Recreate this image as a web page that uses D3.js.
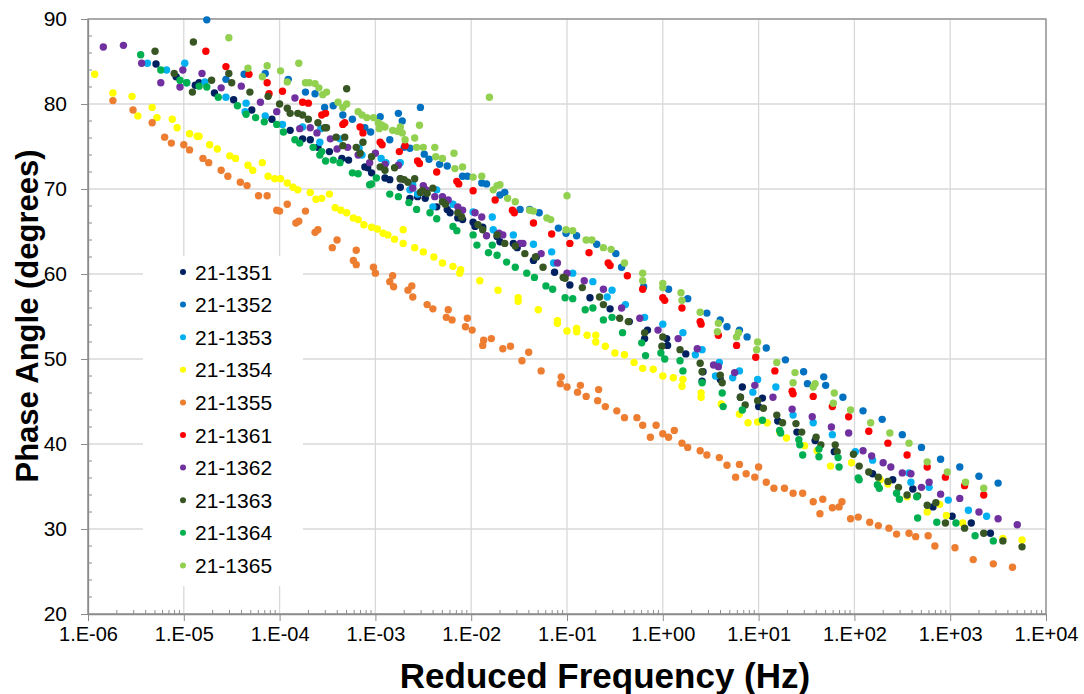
<!DOCTYPE html>
<html>
<head>
<meta charset="utf-8">
<script src="https://cdn.jsdelivr.net/npm/d3@7"></script>
<style>
  body { margin: 0; background: #fff; }
  text { font-family: "Liberation Sans", Arial, sans-serif; }
</style>
</head>
<body>
<svg id="chart"></svg>
<script>
// Series names and colours (legend order)
const seriesNames = ["21-1351", "21-1352", "21-1353", "21-1354", "21-1355",
                     "21-1361", "21-1362", "21-1363", "21-1364", "21-1365"];
const seriesColors = ["#002060", "#0070C0", "#00B0F0", "#FFFF00", "#ED7D31",
                      "#FF0000", "#7030A0", "#375623", "#00B050", "#92D050"];

// Points as [log10 of reduced frequency (Hz), phase angle (degrees)]
const s1351 = [[-5.29,84.7],[-5.08,83.2],[-4.88,82.2],[-4.84,82.5],[-4.68,81.3],[-4.48,80.5],[-4.29,79.3],[-4.08,78.2],
  [-3.89,76.9],[-3.76,75.9],[-3.68,75.8],[-3.60,74.9],[-3.48,74.4],[-3.35,73.6],[-3.28,73.4],[-3.11,72.6],[-3.08,72.5],
  [-3.04,71.9],[-2.90,71.3],[-2.85,71.1],[-2.74,70.2],[-2.64,68.9],[-2.56,69.1],[-2.48,68.9],[-2.36,67.9],[-2.25,67.6],
  [-2.22,67.2],[-2.14,66.6],[-2.09,66.4],[-1.98,66.1],[-1.96,65.6],[-1.88,65.5],[-1.73,64.4],[-1.70,63.8],[-1.56,63.6],
  [-1.52,63.1],[-1.35,61.6],[-1.32,62.0],[-1.13,60.2],[-0.97,58.7],[-0.76,57.2],[-0.55,55.9],[-0.35,54.4],[-0.19,52.4],
  [-0.16,53.4],[0.04,52.4],[0.05,51.6],[0.24,50.6],[0.41,47.4],[0.42,48.5],[0.60,47.6],[0.81,45.5],[0.83,46.7],[1.00,44.4],
  [1.04,45.4],[1.20,42.7],[1.40,41.4],[1.59,40.4],[1.79,39.1],[2.19,36.5],[2.40,35.8],[2.61,34.7],[2.82,32.6],[3.02,31.5],
  [3.22,30.7],[3.42,29.5]];

const s1352 = [[-4.76,89.9],[-4.56,82.9],[-4.37,83.5],[-4.15,83.6],[-3.91,82.9],[-3.73,81.4],[-3.63,81.2],[-3.53,79.6],
  [-3.44,79.8],[-3.34,78.7],[-3.24,78.2],[-3.11,77.2],[-3.05,76.7],[-2.95,78.5],[-2.85,75.8],[-2.76,78.9],[-2.72,78.0],
  [-2.53,79.6],[-2.70,74.9],[-2.64,74.8],[-2.49,74.1],[-2.44,73.5],[-2.33,72.9],[-2.25,72.7],[-2.09,71.5],[-2.04,71.5],
  [-1.89,70.7],[-1.84,70.6],[-1.70,69.3],[-1.65,69.6],[-1.49,67.6],[-1.39,67.6],[-1.29,67.2],[-1.09,65.4],[-1.01,64.8],
  [-0.90,64.5],[-0.69,63.5],[-0.49,62.4],[-0.43,60.8],[-0.20,58.5],[0.06,58.2],[0.26,57.1],[0.46,55.4],[0.60,54.6],
  [0.67,53.8],[0.80,53.4],[0.88,52.6],[1.08,51.3],[1.28,49.9],[1.47,48.5],[1.51,47.1],[1.68,47.9],[1.70,46.9],[1.88,45.5],
  [2.09,43.9],[2.29,42.9],[2.50,41.1],[2.70,39.6],[2.90,38.2],[3.10,37.3],[3.30,36.2],[3.50,35.4]];

const s1353 = [[-5.38,84.8],[-5.18,84.0],[-4.99,84.8],[-4.97,82.5],[-4.78,82.6],[-4.56,80.8],[-4.35,80.1],[-4.36,79.1],
  [-4.15,78.6],[-3.97,77.6],[-3.76,77.3],[-3.58,75.5],[-3.57,77.1],[-3.37,75.9],[-3.17,74.8],[-3.14,74.0],[-2.94,73.6],
  [-2.89,73.1],[-2.74,73.1],[-2.64,69.9],[-2.61,70.5],[-2.56,69.4],[-2.40,67.9],[-2.36,69.9],[-2.19,68.2],[-1.98,67.3],
  [-1.78,66.7],[-1.77,65.2],[-1.56,64.6],[-1.35,63.5],[-1.16,62.6],[-1.14,61.3],[-0.94,60.1],[-0.73,59.1],[-0.58,57.3],
  [-0.53,58.1],[-0.39,56.4],[-0.19,54.9],[0.00,54.1],[0.21,53.1],[0.34,50.5],[0.41,51.1],[0.55,48.0],[0.59,49.6],
  [0.73,47.8],[0.80,48.6],[0.94,46.1],[0.99,47.6],[1.18,46.7],[1.36,43.4],[1.57,42.5],[1.77,41.1],[2.01,39.1],[2.19,38.1],
  [2.57,36.6],[2.59,35.5],[2.78,34.9],[2.98,33.4],[3.19,32.2],[3.38,31.5]];

const s1354 = [[-5.93,83.5],[-5.74,81.3],[-5.54,80.9],[-5.48,78.6],[-5.33,79.6],[-5.28,78.4],[-5.12,78.2],[-5.07,77.2],
  [-4.94,76.5],[-4.86,76.2],[-4.84,76.2],[-4.73,75.2],[-4.65,74.7],[-4.52,73.9],[-4.46,73.6],[-4.33,72.8],[-4.28,72.2],
  [-4.18,73.1],[-4.12,71.5],[-4.05,71.2],[-3.99,71.2],[-3.92,70.7],[-3.86,70.2],[-3.81,69.9],[-3.68,69.6],[-3.62,68.8],
  [-3.56,68.9],[-3.48,69.4],[-3.42,67.8],[-3.36,67.5],[-3.30,67.2],[-3.23,66.6],[-3.18,66.4],[-3.12,65.8],[-3.04,65.5],
  [-2.98,65.3],[-2.92,64.8],[-2.87,64.6],[-2.80,64.1],[-2.71,63.6],[-2.71,65.2],[-2.59,63.1],[-2.50,62.6],[-2.39,62.0],
  [-2.30,61.3],[-2.19,60.9],[-2.12,60.1],[-2.11,60.5],[-1.91,59.2],[-1.72,58.1],[-1.51,57.2],[-1.51,56.8],[-1.30,55.8],
  [-1.10,54.5],[-1.10,54.2],[-1.00,53.3],[-0.90,53.6],[-0.90,53.2],[-0.79,52.8],[-0.70,52.8],[-0.70,52.0],[-0.60,51.5],
  [-0.50,50.7],[-0.40,50.5],[-0.30,49.6],[-0.21,48.9],[-0.10,48.8],[0.00,48.0],[0.11,47.8],[0.21,47.6],[0.20,46.8],
  [0.40,46.0],[0.40,45.5],[0.61,44.7],[0.80,43.5],[0.89,42.5],[0.99,42.6],[1.09,42.5],[1.22,41.4],[1.29,40.7],[1.48,39.8],
  [1.61,39.2],[1.75,37.4],[1.97,37.8],[2.27,35.8],[2.35,35.3],[2.55,33.8],[2.76,32.0],[2.89,32.9],[2.96,31.6],[3.13,30.7],
  [3.55,28.9],[3.75,28.7]];

const s1355 = [[-5.74,80.4],[-5.53,79.3],[-5.33,77.8],[-5.20,76.1],[-5.13,75.4],[-5.00,75.2],[-4.94,74.6],[-4.80,73.6],
  [-4.74,73.1],[-4.61,72.2],[-4.54,71.5],[-4.41,70.8],[-4.34,70.4],[-4.22,69.2],[-4.13,69.2],[-4.03,67.5],[-4.00,67.4],
  [-3.92,68.2],[-3.83,66.0],[-3.80,66.2],[-3.73,67.4],[-3.63,64.9],[-3.60,65.2],[-3.45,63.1],[-3.40,64.0],[-3.23,61.6],
  [-3.20,62.8],[-3.20,61.1],[-3.02,60.8],[-3.00,60.1],[-2.85,59.1],[-2.82,59.8],[-2.81,58.5],[-2.66,58.1],[-2.62,58.6],
  [-2.61,57.3],[-2.46,56.4],[-2.40,55.9],[-2.26,54.9],[-2.24,55.8],[-2.20,54.6],[-2.06,53.8],[-2.04,54.8],[-1.99,53.4],
  [-1.88,51.6],[-1.87,52.2],[-1.79,52.4],[-1.67,51.2],[-1.59,51.5],[-1.47,49.8],[-1.40,50.8],[-1.27,48.6],[-1.07,47.1],
  [-1.06,47.9],[-1.00,46.7],[-0.89,46.1],[-0.86,46.9],[-0.80,45.6],[-0.68,45.1],[-0.67,46.4],[-0.60,44.4],[-0.48,43.9],
  [-0.40,43.1],[-0.27,43.1],[-0.21,42.2],[-0.13,40.8],[-0.07,42.2],[0.00,41.2],[0.06,40.8],[0.12,41.6],[0.20,40.1],
  [0.26,39.6],[0.39,39.2],[0.46,38.7],[0.59,38.4],[0.67,37.5],[0.76,36.1],[0.80,37.6],[0.87,36.5],[0.96,36.1],[1.00,37.3],
  [1.08,35.5],[1.16,34.8],[1.27,34.8],[1.36,34.2],[1.46,34.2],[1.57,33.2],[1.64,31.8],[1.67,33.5],[1.77,32.5],[1.84,32.6],
  [1.87,33.2],[1.96,31.2],[2.04,31.4],[2.16,30.8],[2.25,30.4],[2.36,30.1],[2.44,29.4],[2.57,29.5],[2.64,29.1],[2.77,29.2],
  [2.84,28.0],[3.05,27.8],[3.24,26.4],[3.45,25.9],[3.65,25.5]];

const s1361 = [[-4.77,86.2],[-4.56,84.4],[-4.32,83.5],[-4.13,82.5],[-4.11,81.2],[-3.97,81.5],[-3.76,80.2],[-3.70,80.1],
  [-3.56,78.7],[-3.52,78.9],[-3.34,77.6],[-3.32,77.8],[-3.16,77.3],[-3.13,76.6],[-2.95,75.5],[-2.93,75.2],[-2.75,74.4],
  [-2.69,75.1],[-2.56,73.3],[-2.54,73.0],[-2.36,72.0],[-2.15,70.9],[-2.13,70.6],[-1.98,69.8],[-1.75,68.7],[-1.57,67.5],
  [-1.55,67.2],[-1.35,66.0],[-1.16,64.7],[-0.97,63.6],[-0.77,62.5],[-0.57,61.3],[-0.55,61.0],[-0.37,59.8],[-0.21,58.2],
  [0.00,57.2],[0.02,56.9],[0.20,56.0],[0.39,54.4],[0.40,54.1],[0.58,52.8],[0.77,51.6],[0.97,50.2],[1.17,48.6],[1.35,46.2],
  [1.36,45.9],[1.57,45.6],[1.77,44.4],[1.94,43.2],[2.15,41.5],[2.35,40.1],[2.55,38.7],[2.76,37.3],[2.95,36.1],[3.15,35.1],
  [3.35,34.0]];

const s1362 = [[-5.84,86.7],[-5.63,86.9],[-5.44,84.8],[-5.24,82.5],[-5.04,82.0],[-5.01,84.0],[-4.81,83.6],[-4.61,81.9],
  [-4.40,82.1],[-4.20,80.2],[-4.03,79.1],[-3.84,80.7],[-3.79,77.1],[-3.68,77.2],[-3.61,76.6],[-3.47,75.9],[-3.40,74.7],
  [-3.29,74.9],[-3.18,74.0],[-3.06,73.1],[-3.00,74.2],[-2.90,72.9],[-2.76,72.8],[-2.74,71.2],[-2.61,70.1],[-2.50,70.4],
  [-2.47,69.9],[-2.38,69.1],[-2.30,69.1],[-2.24,68.7],[-2.14,67.9],[-2.09,67.5],[-1.96,67.2],[-1.89,66.7],[-1.84,64.5],
  [-1.71,64.8],[-1.67,64.6],[-1.49,63.6],[-1.46,63.6],[-1.27,62.4],[-1.10,61.3],[-1.00,60.1],[-0.82,59.2],[-0.62,58.2],
  [-0.43,56.0],[-0.24,54.8],[-0.05,53.4],[0.16,52.4],[0.36,51.2],[0.53,49.3],[0.58,49.1],[0.75,48.4],[0.96,46.9],
  [1.15,45.5],[1.35,44.1],[1.56,43.2],[1.76,42.0],[1.94,41.3],[2.09,39.2],[2.18,38.6],[2.30,37.8],[2.38,37.3],[2.50,36.6],
  [2.59,36.5],[2.70,34.9],[2.78,35.5],[2.90,34.1],[3.10,33.6],[3.30,32.0],[3.50,31.2],[3.70,30.5]];

const s1363 = [[-5.30,86.2],[-5.10,83.6],[-4.91,81.4],[-4.90,87.3],[-4.71,82.8],[-4.53,83.6],[-4.50,82.5],[-4.31,81.4],
  [-4.12,80.9],[-4.00,80.0],[-3.92,79.5],[-3.89,78.9],[-3.81,78.9],[-3.76,78.7],[-3.70,78.2],[-3.60,77.8],[-3.53,77.2],
  [-3.51,77.2],[-3.41,76.1],[-3.34,75.1],[-3.32,76.1],[-3.30,81.8],[-3.20,74.9],[-3.16,74.2],[-3.13,75.5],[-3.04,73.8],
  [-2.95,72.6],[-2.90,72.2],[-2.80,72.5],[-2.74,71.2],[-2.70,71.1],[-2.66,70.8],[-2.59,71.2],[-2.53,69.6],[-2.51,69.8],
  [-2.46,69.5],[-2.40,70.1],[-2.30,68.5],[-2.27,68.2],[-2.14,67.2],[-2.10,66.7],[-1.93,65.8],[-1.88,65.2],[-1.73,64.6],
  [-1.65,63.6],[-1.54,63.3],[-1.44,62.4],[-1.33,62.0],[-1.25,60.8],[-1.04,59.6],[-1.02,59.5],[-0.84,58.4],[-0.66,57.3],
  [-0.62,56.4],[-0.45,54.8],[-0.36,54.4],[-0.19,53.1],[-0.01,51.5],[0.00,52.6],[0.18,51.1],[0.39,49.5],[0.41,48.5],
  [0.60,48.1],[0.62,47.2],[0.81,45.5],[0.86,44.6],[0.99,45.1],[1.05,44.2],[1.19,43.4],[1.25,42.5],[1.39,42.4],[1.45,41.4],
  [1.60,40.8],[1.65,39.9],[1.80,39.9],[1.82,39.1],[1.99,38.8],[2.05,37.4],[2.15,36.7],[2.25,36.1],[2.35,35.6],[2.46,34.9],
  [2.55,34.0],[2.66,33.9],[2.76,32.8],[2.85,33.1],[2.95,30.7],[3.15,30.1],[3.35,29.5],[3.55,28.6],[3.75,27.9]];

const s1364 = [[-5.45,85.8],[-5.24,84.0],[-5.04,82.8],[-4.97,82.5],[-4.84,82.1],[-4.76,82.0],[-4.64,80.8],[-4.44,79.8],
  [-4.35,78.8],[-4.25,78.4],[-4.16,77.9],[-4.03,77.6],[-3.96,76.7],[-3.84,75.8],[-3.79,75.4],[-3.65,74.9],[-3.58,74.0],
  [-3.56,74.4],[-3.52,73.3],[-3.44,73.4],[-3.37,73.1],[-3.24,71.9],[-3.18,71.8],[-3.06,70.5],[-3.04,70.6],[-2.99,71.3],
  [-2.85,69.4],[-2.76,69.1],[-2.65,68.4],[-2.57,67.6],[-2.43,67.2],[-2.36,66.5],[-2.19,65.6],[-2.15,65.1],[-1.98,64.6],
  [-1.94,63.4],[-1.82,62.5],[-1.78,63.4],[-1.73,62.2],[-1.63,61.4],[-1.54,60.8],[-1.42,60.1],[-1.34,59.6],[-1.22,58.6],
  [-1.15,58.2],[-1.02,57.2],[-0.94,57.1],[-0.81,55.8],[-0.73,56.0],[-0.62,54.6],[-0.53,54.9],[-0.42,53.1],[-0.22,51.9],
  [-0.18,50.4],[-0.02,50.7],[0.02,50.0],[0.18,49.8],[0.21,48.6],[0.41,47.2],[0.62,46.0],[0.63,44.4],[0.83,44.0],
  [1.04,42.8],[1.22,41.6],[1.23,41.3],[1.42,40.5],[1.43,39.9],[1.46,38.7],[1.63,39.4],[1.63,38.5],[1.83,38.4],[1.84,37.3],
  [2.04,36.0],[2.05,35.8],[2.24,35.2],[2.26,34.8],[2.44,34.2],[2.47,33.5],[2.65,33.8],[2.66,31.3],[2.86,30.8],[3.06,30.7],
  [3.26,29.2],[3.45,28.6]];

const s1365 = [[-4.53,87.8],[-4.33,84.2],[-4.18,83.2],[-4.13,84.5],[-3.99,83.9],[-3.92,82.6],[-3.80,84.8],[-3.73,82.5],
  [-3.69,82.5],[-3.63,82.4],[-3.59,81.9],[-3.55,81.1],[-3.51,81.4],[-3.39,80.2],[-3.34,79.6],[-3.30,80.0],[-3.18,79.1],
  [-3.14,78.7],[-3.09,78.4],[-3.02,78.4],[-2.97,77.8],[-2.96,77.1],[-2.93,77.5],[-2.90,77.3],[-2.82,76.9],[-2.77,76.8],
  [-2.74,77.3],[-2.72,76.6],[-2.69,75.8],[-2.59,76.0],[-2.54,77.5],[-2.57,74.9],[-2.50,74.9],[-2.38,74.9],[-2.37,73.8],
  [-2.30,73.6],[-2.18,74.2],[-2.17,72.4],[-2.09,72.6],[-1.98,71.4],[-1.89,71.5],[-1.81,80.8],[-1.77,69.9],[-1.73,70.4],
  [-1.70,70.5],[-1.62,68.9],[-1.54,68.5],[-1.39,67.5],[-1.35,67.4],[-1.21,66.6],[-1.17,66.4],[-1.01,65.2],[-1.00,69.2],
  [-0.94,65.1],[-0.80,64.0],[-0.74,64.0],[-0.62,63.1],[-0.54,62.9],[-0.40,61.3],[-0.21,60.1],[-0.21,59.2],[0.00,58.9],
  [0.00,58.4],[0.19,57.8],[0.20,56.9],[0.39,55.5],[0.58,54.2],[0.57,53.2],[0.79,53.1],[0.77,52.6],[0.99,52.0],[0.98,51.1],
  [1.19,49.6],[1.38,48.4],[1.36,47.2],[1.59,47.1],[1.57,46.7],[1.79,46.0],[1.78,44.8],[1.96,44.0],[2.17,42.5],[2.37,41.3],
  [2.57,40.1],[2.76,37.9],[2.97,36.7],[3.16,35.5],[3.35,34.8]];

const seriesData = [s1351, s1352, s1353, s1354, s1355, s1361, s1362, s1363, s1364, s1365];

// Axis ticks
const xDecades = [-6, -5, -4, -3, -2, -1, 0, 1, 2, 3, 4];
const yTicks = [20, 30, 40, 50, 60, 70, 80, 90];

const W = 1084, H = 694;
const margin = {top: 19, right: 38, bottom: 80, left: 88};
const width = W - margin.left - margin.right;
const height = H - margin.top - margin.bottom;

const svg = d3.select("#chart").attr("width", W).attr("height", H);
const g = svg.append("g").attr("transform", `translate(${margin.left},${margin.top})`);

const x = d3.scaleLog().domain([1e-6, 1e4]).range([0, width]);
const y = d3.scaleLinear().domain([20, 90]).range([height, 0]);

const fmt = v => {
  const e = Math.round(Math.log10(v));
  return "1.E" + (e < 0 ? "-" : "+") + String(Math.abs(e)).padStart(2, "0");
};

// Gridlines
g.append("g").selectAll("line").data(xDecades.map(e => Math.pow(10, e))).join("line")
  .attr("x1", d => x(d)).attr("x2", d => x(d)).attr("y1", 0).attr("y2", height)
  .attr("stroke", "#d9d9d9").attr("stroke-width", 1.3);
g.append("g").selectAll("line").data(yTicks).join("line")
  .attr("x1", 0).attr("x2", width).attr("y1", d => y(d)).attr("y2", d => y(d))
  .attr("stroke", "#d9d9d9").attr("stroke-width", 1.3);

// Plot border (top/right)
g.append("rect").attr("width", width).attr("height", height)
  .attr("fill", "none").attr("stroke", "#8c8c8c").attr("stroke-width", 1.3);

// X axis with outward major ticks
const xAxis = g.append("g").attr("transform", `translate(0,${height})`)
  .call(d3.axisBottom(x).tickValues(xDecades.map(e => Math.pow(10, e))).tickFormat(fmt)
    .tickSizeInner(7).tickSizeOuter(0).tickPadding(6));
xAxis.select(".domain").attr("stroke", "#8c8c8c").attr("stroke-width", 1.3);
xAxis.selectAll(".tick line").attr("stroke", "#8c8c8c");
xAxis.selectAll("text").attr("font-size", "20px").attr("fill", "#000")
  .style("font-family", "'Liberation Sans', Arial, sans-serif");

// X minor ticks (inside)
const xMinor = [];
xDecades.slice(0, -1).forEach(e => { for (let k = 2; k <= 9; k++) xMinor.push(k * Math.pow(10, e)); });
g.append("g").selectAll("line").data(xMinor).join("line")
  .attr("x1", d => x(d)).attr("x2", d => x(d)).attr("y1", height).attr("y2", height - 4)
  .attr("stroke", "#8c8c8c");

// Y axis
const yAxis = g.append("g")
  .call(d3.axisLeft(y).tickValues(yTicks).tickSizeInner(7).tickSizeOuter(0).tickPadding(14));
yAxis.select(".domain").attr("stroke", "#8c8c8c").attr("stroke-width", 1.3);
yAxis.selectAll(".tick line").attr("stroke", "#8c8c8c");
yAxis.selectAll("text").attr("font-size", "21px").attr("fill", "#000")
  .style("font-family", "'Liberation Sans', Arial, sans-serif");

// Y minor ticks (inside, every 2 degrees)
const yMinor = d3.range(22, 90, 2).filter(v => v % 10 !== 0);
g.append("g").selectAll("line").data(yMinor).join("line")
  .attr("x1", 0).attr("x2", 4).attr("y1", d => y(d)).attr("y2", d => y(d))
  .attr("stroke", "#8c8c8c");

// Legend background (hides gridlines behind it)
const legendX = 95, legendY = 253, legendStep = 32.6;
g.append("rect").attr("x", 55).attr("y", 237).attr("width", 160).attr("height", 330).attr("fill", "#fff");

// Points
seriesData.forEach((pts, i) => {
  g.append("g").selectAll("circle").data(pts).join("circle")
    .attr("cx", d => x(Math.pow(10, d[0])))
    .attr("cy", d => y(d[1]))
    .attr("r", 3.7)
    .attr("fill", seriesColors[i]);
});

// Legend
const legend = g.append("g");
seriesNames.forEach((name, i) => {
  legend.append("circle").attr("cx", legendX).attr("cy", legendY + i * legendStep)
    .attr("r", 3).attr("fill", seriesColors[i]);
  legend.append("text").attr("x", legendX + 12).attr("y", legendY + i * legendStep + 7.5)
    .attr("font-size", "21px").text(name);
});

// Axis titles
svg.append("text")
  .attr("x", 605).attr("y", 688)
  .attr("text-anchor", "middle").attr("font-size", "35px").attr("font-weight", "bold")
  .text("Reduced Frequency (Hz)");
svg.append("text")
  .attr("transform", `translate(38,316) rotate(-90)`)
  .attr("text-anchor", "middle").attr("font-size", "31px").attr("font-weight", "bold")
  .text("Phase Angle (degrees)");
</script>
</body>
</html>
